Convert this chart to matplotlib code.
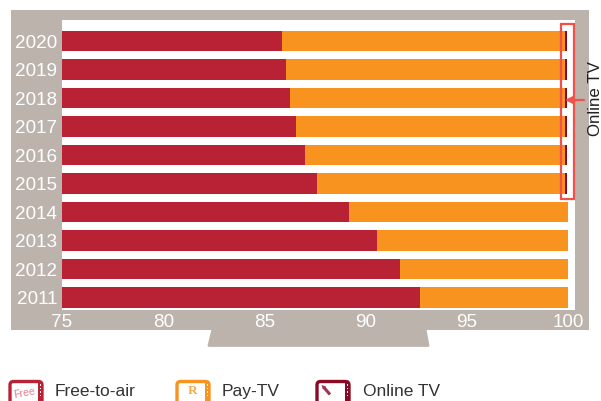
import matplotlib
matplotlib.use('Agg')
import matplotlib.pyplot as plt
from matplotlib.patches import Rectangle, Polygon, FancyBboxPatch

plt.rcParams['font.family'] = ['Liberation Sans', 'DejaVu Sans']

years = [2011, 2012, 2013, 2014, 2015, 2016, 2017, 2018, 2019, 2020]
free_to_air = [92.7, 91.7, 90.55, 89.2, 87.6, 87.0, 86.55, 86.25, 86.05, 85.85]
pay_tv = [7.3, 8.3, 9.45, 10.8, 12.25, 12.85, 13.3, 13.6, 13.8, 14.0]
online_tv = [0, 0, 0, 0, 0.1, 0.1, 0.1, 0.1, 0.1, 0.1]

x_ticks = [75, 80, 85, 90, 95, 100]
legend_labels = ['Free-to-air', 'Pay-TV', 'Online TV']

RED = '#b92234'
ORANGE = '#f8931f'
DARK = '#8a0a24'
FRAME = '#bcb3ac'
W, H = 601, 401

fig = plt.figure(figsize=(W / 100, H / 100), dpi=100, facecolor='white')

# pixel canvas for the tv set and the legend
bg = fig.add_axes([0, 0, 1, 1], zorder=0)
bg.set_xlim(0, W)
bg.set_ylim(H, 0)
bg.axis('off')
bg.add_patch(Rectangle((11, 10), 578, 320, fc=FRAME, ec='none'))
bg.add_patch(Polygon([(213, 329), (425, 329), (428, 345.5), (209, 345.5)], closed=True,
                     fc=FRAME, ec=FRAME, lw=2, joinstyle='round'))

# bars
ax = fig.add_axes([62 / W, 1 - 309.5 / H, 513 / W, 289.5 / H], zorder=1)
left_pay = free_to_air
left_online = [f + p for f, p in zip(free_to_air, pay_tv)]
ax.barh(years, free_to_air, height=0.73, color=RED)
ax.barh(years, pay_tv, left=left_pay, height=0.73, color=ORANGE)
ax.barh(years, online_tv, left=left_online, height=0.73, color=DARK)
ax.set_xlim(75, 75 + 513 / 20.24)
ax.set_ylim(2010.58, 2020.74)
ax.set_xticks(x_ticks)
ax.set_yticks(years)
ax.tick_params(length=0, labelsize=13.6, labelcolor='white')
ax.tick_params(axis='x', pad=3)
ax.tick_params(axis='y', pad=3.6)
for s in ax.spines.values():
    s.set_visible(False)

# callout for the online series
top = fig.add_axes([0, 0, 1, 1], zorder=2)
top.set_xlim(0, W)
top.set_ylim(H, 0)
top.axis('off')
top.patch.set_alpha(0)
top.add_patch(Rectangle((560.7, 23.5), 13.6, 175.5, fc='none', ec='#f0524a', lw=1.6))
top.annotate('', xy=(565, 100), xytext=(584, 100),
             arrowprops=dict(arrowstyle='-|>', color='#f0524a', lw=1.6, mutation_scale=11,
                             shrinkA=0, shrinkB=0))
top.text(595, 99, 'Online TV', rotation=90, ha='center', va='center', fontsize=12.2,
         color='#222222')


def tv_icon(x, color, tag, tag_color):
    # small tv outline with the row of dots on its right side
    top.add_patch(FancyBboxPatch((x + 1, 381.5), 32, 24, boxstyle='round,pad=0,rounding_size=3.5',
                                 fc='white', ec=color, lw=2.4))
    top.add_patch(Rectangle((x + 29, 382), 5, 20, fc=color, ec='none'))
    for dy in (384, 387.5, 391, 394.5):
        top.add_patch(Rectangle((x + 30.8, dy), 1.4, 1.6, fc='white', ec='none'))
    if tag == 'Free':
        top.text(x + 15, 393.5, tag, fontsize=7.6, color=tag_color, rotation=10,
                 ha='center', va='center')
    elif tag == 'R':
        top.text(x + 16.5, 390.5, tag, fontsize=9.5, color=tag_color, family='Liberation Serif',
                 weight='bold', ha='center', va='center')
    else:
        top.plot([x + 7.5, x + 14], [387, 394.5], color=tag_color, lw=2.2, solid_capstyle='butt')
        top.add_patch(Polygon([(x + 5.5, 385), (x + 10, 386.5), (x + 7, 389.5)], closed=True,
                              fc=tag_color, ec='none'))


tv_icon(9, RED, 'Free', '#e57f8f')
tv_icon(176, ORANGE, 'R', '#f8a94e')
tv_icon(316, DARK, 'pen', '#a0334f')

for tx, label in zip([55, 222, 363], legend_labels):
    top.text(tx, 396, label, fontsize=12.5, color='#333333', ha='left', va='baseline')

fig.savefig('out.png', dpi=100)
